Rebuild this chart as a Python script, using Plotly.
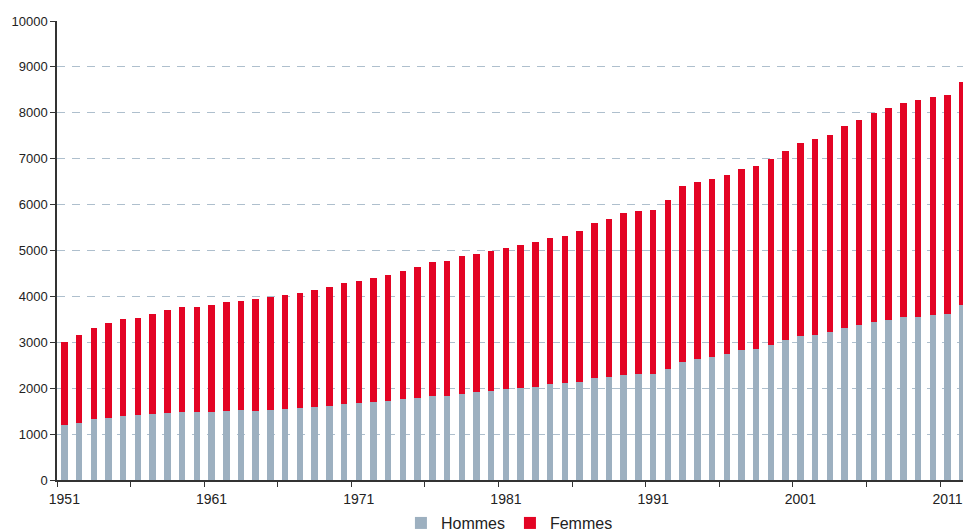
import plotly.graph_objects as go

years = list(range(1951, 2013))
hommes = [1190, 1250, 1320, 1360, 1390, 1410, 1430, 1470, 1490, 1490,
          1490, 1510, 1530, 1510, 1530, 1550, 1560, 1590, 1610, 1656,
          1678, 1699, 1721, 1765, 1786, 1830, 1830, 1874, 1917, 1939,
          1983, 2004, 2026, 2092, 2113, 2135, 2222, 2244, 2285, 2300,
          2300, 2409, 2562, 2627, 2671, 2737, 2824, 2846, 2933, 3042,
          3130, 3151, 3217, 3304, 3370, 3435, 3479, 3544, 3544, 3588,
          3610, 3806]
totals = [3000, 3150, 3320, 3430, 3500, 3540, 3610, 3700, 3760, 3780,
          3820, 3870, 3910, 3940, 3980, 4020, 4075, 4137, 4207, 4299,
          4336, 4408, 4466, 4553, 4641, 4750, 4771, 4880, 4924, 4996,
          5054, 5120, 5192, 5272, 5316, 5425, 5599, 5686, 5816, 5859,
          5881, 6099, 6405, 6492, 6557, 6645, 6776, 6841, 6994, 7169,
          7343, 7431, 7518, 7715, 7846, 8006, 8108, 8217, 8282, 8348,
          8391, 8675]
femmes = [t - h for t, h in zip(totals, hommes)]

label_years = [1951, 1961, 1971, 1981, 1991, 2001, 2011]
boundary_ticks = [y - 0.5 for y in range(1951, 2013, 5)]

GRAY = "#9db0c0"
RED = "#e30424"
FONT = "Liberation Sans, Arial, Helvetica, sans-serif"

fig = go.Figure()
fig.add_trace(go.Bar(x=years, y=hommes, name="Hommes", marker_color=GRAY,
                     width=0.44, marker_line_width=0))
fig.add_trace(go.Bar(x=years, y=femmes, name="Femmes", marker_color=RED,
                     width=0.44, marker_line_width=0))

fig.update_layout(
    barmode="stack",
    width=963, height=531,
    margin=dict(l=56.5, r=0, t=21, b=51, pad=0, autoexpand=False),
    paper_bgcolor="white", plot_bgcolor="white",
    font=dict(family=FONT, color="#222222"),
    showlegend=True,
    legend=dict(orientation="h", xref="container", yref="container",
                x=0.529, xanchor="center", y=0.015, yanchor="middle",
                font=dict(size=16, family=FONT, color="#222222"),
                itemwidth=30, traceorder="normal", bgcolor="rgba(0,0,0,0)"),
    xaxis=dict(range=[1950.5, 2012.05], tickmode="array", tickvals=label_years,
               ticktext=[str(y) for y in label_years], ticks="",
               ticklabelstandoff=5,
               tickfont=dict(size=14, family=FONT, color="#222222"),
               showline=True, linecolor="#333333", linewidth=1.5,
               showgrid=False, zeroline=False,
               minor=dict(tickmode="array", tickvals=boundary_ticks,
                          ticks="outside", ticklen=5, tickwidth=1.2,
                          tickcolor="#333333", showgrid=False)),
    yaxis=dict(range=[0, 10000], tickmode="linear", tick0=0, dtick=1000,
               tickformat="d",
               ticks="outside", ticklen=5, tickwidth=1, tickcolor="#333333",
               tickfont=dict(size=13, family=FONT, color="#222222"),
               showline=True, linecolor="#333333", linewidth=1.5,
               showgrid=True, gridcolor="#aebfcd", gridwidth=1,
               griddash="8px,7px", zeroline=False),
)

fig.write_html(
    "out.html",
    config={"displayModeBar": False},
    post_script="document.body.style.margin='0';document.body.style.overflow='hidden';",
)
